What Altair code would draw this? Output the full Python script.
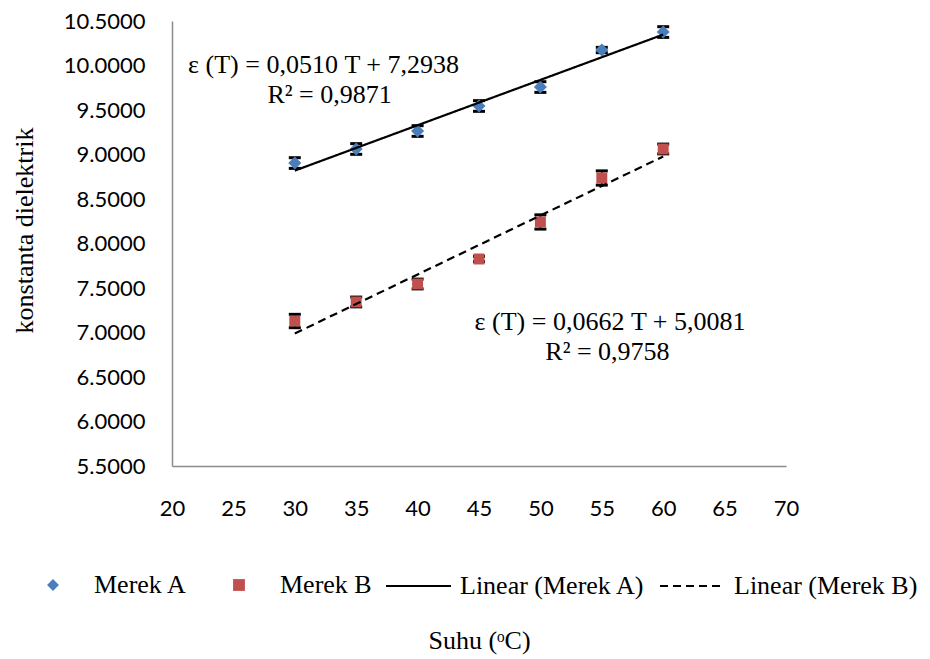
import altair as alt
import pandas as pd

# ---- data ----
temps = [30, 35, 40, 45, 50, 55, 60]
merek_a = [8.904, 9.062, 9.264, 9.545, 9.758, 10.174, 10.376]
merek_a_err = [0.06, 0.06, 0.06, 0.06, 0.06, 0.03, 0.06]
merek_b = [7.129, 7.343, 7.545, 7.826, 8.242, 8.736, 9.062]
merek_b_err = [0.075, 0.055, 0.055, 0.03, 0.08, 0.08, 0.055]
series_names = ["Merek A", "Merek B"]
trend_names = ["Linear (Merek A)", "Linear (Merek B)"]
x_ticks = [20, 25, 30, 35, 40, 45, 50, 55, 60, 65, 70]
y_ticks = [5.5, 6.0, 6.5, 7.0, 7.5, 8.0, 8.5, 9.0, 9.5, 10.0, 10.5]
ann_text = ["ε (T) = 0,0510 T + 7,2938", "R² = 0,9871",
            "ε (T) = 0,0662 T + 5,0081", "R² = 0,9758"]
ann_x = [32.34, 32.83, 55.67, 55.46]
ann_y = [10.006, 9.669, 7.118, 6.781]

rows = []
for name, vals, errs in [(series_names[0], merek_a, merek_a_err),
                         (series_names[1], merek_b, merek_b_err)]:
    for t, v, e in zip(temps, vals, errs):
        rows.append({"T": t, "value": v, "series": name,
                     "lo": v - e, "hi": v + e})
df = pd.DataFrame(rows)
ann = pd.DataFrame({"T": ann_x, "value": ann_y, "label": ann_text})

BLUE = "#4a7ebb"
RED = "#c0504d"
SERIF = "Liberation Serif"

leg_common = dict(title=None, orient="none", direction="horizontal", columns=2,
                  labelFont=SERIF, labelFontSize=26, labelColor="black",
                  labelLimit=500, symbolStrokeWidth=2.2, padding=0)
leg_pts = alt.Legend(legendX=-132, legendY=551, columnPadding=38, labelOffset=28,
                     symbolSize=140, **leg_common)
leg_lines = alt.Legend(legendX=212.5, legendY=531, columnPadding=10, labelOffset=7.5,
                       symbolSize=4225, **leg_common)

fill_scale = alt.Scale(domain=series_names, range=[BLUE, RED])
shape_scale = alt.Scale(domain=series_names, range=["diamond", "square"])
# point sizes (diamond slightly larger than square); domain listed in reverse
size_scale = alt.Scale(domain=series_names[::-1], range=[120, 170])
stroke_scale = alt.Scale(domain=trend_names, range=["black", "black"])
dash_scale = alt.Scale(domain=trend_names, range=[[1, 0], [8, 5]])

x_enc = alt.X("T:Q", scale=alt.Scale(domain=[20, 70], nice=False, zero=False),
              axis=alt.Axis(values=x_ticks, title="Suhu (ᵒC)", grid=False, ticks=False,
                            tickSize=0, domainColor="#8c8c8c", domainWidth=1.5,
                            labelFont="Lato", labelFontSize=22, labelColor="black",
                            labelPadding=42, labelBaseline="middle", labelFlush=False,
                            titleFont=SERIF, titleFontSize=26, titleFontWeight="normal",
                            titleColor="black", titleX=307, titleY=174,
                            titleBaseline="middle", titleAlign="center"))
y_enc = alt.Y("value:Q", scale=alt.Scale(domain=[5.5, 10.5], nice=False, zero=False),
              axis=alt.Axis(values=y_ticks, format=".4f", title="konstanta dielektrik",
                            grid=False, ticks=False, tickSize=0, domainColor="#8c8c8c",
                            domainWidth=1.5, labelFont="Lato", labelFontSize=22,
                            labelColor="black", labelPadding=27, labelFlush=False,
                            labelOverlap=False,
                            titleFont=SERIF, titleFontSize=26, titleFontWeight="normal",
                            titleColor="black", titleX=-148, titleY=209, titleAngle=270,
                            titleBaseline="middle", titleAlign="center"))

base = alt.Chart(df)

err_rule = base.mark_rule(color="black", strokeWidth=1.5).encode(
    x=x_enc, y=alt.Y("lo:Q"), y2="hi:Q")

caps = base.transform_fold(["lo", "hi"], as_=["end", "ev"]).mark_tick(
    orient="horizontal", size=12, thickness=3, color="black", opacity=1).encode(
    x=x_enc, y=alt.Y("ev:Q"))

points = base.mark_point(filled=True, opacity=1).encode(
    x=x_enc, y=y_enc,
    fill=alt.Fill("series:N", scale=fill_scale, legend=leg_pts),
    shape=alt.Shape("series:N", scale=shape_scale, legend=leg_pts),
    size=alt.Size("series:N", scale=size_scale, legend=None),
)

trend = base.transform_regression(
    "T", "value", groupby=["series"], extent=[30, 60]
).transform_calculate(
    trend="'Linear (' + datum.series + ')'"
).mark_line(strokeWidth=2.2).encode(
    x=x_enc, y=y_enc,
    stroke=alt.Stroke("trend:N", scale=stroke_scale, legend=leg_lines),
    strokeDash=alt.StrokeDash("trend:N", scale=dash_scale, legend=leg_lines),
)

text = alt.Chart(ann).mark_text(font=SERIF, fontSize=26, align="center",
                                baseline="middle", color="black").encode(
    x=x_enc, y=y_enc, text="label:N")

chart = alt.layer(err_rule, caps, points, trend, text).properties(
    width=614, height=445,
    padding={"left": 172, "top": 21, "right": 144, "bottom": 193},
    autosize=alt.AutoSizeParams(type="none"),
    background="white",
).configure_view(stroke=None)

chart.save("out.html", embed_options={"renderer": "svg", "actions": False})
